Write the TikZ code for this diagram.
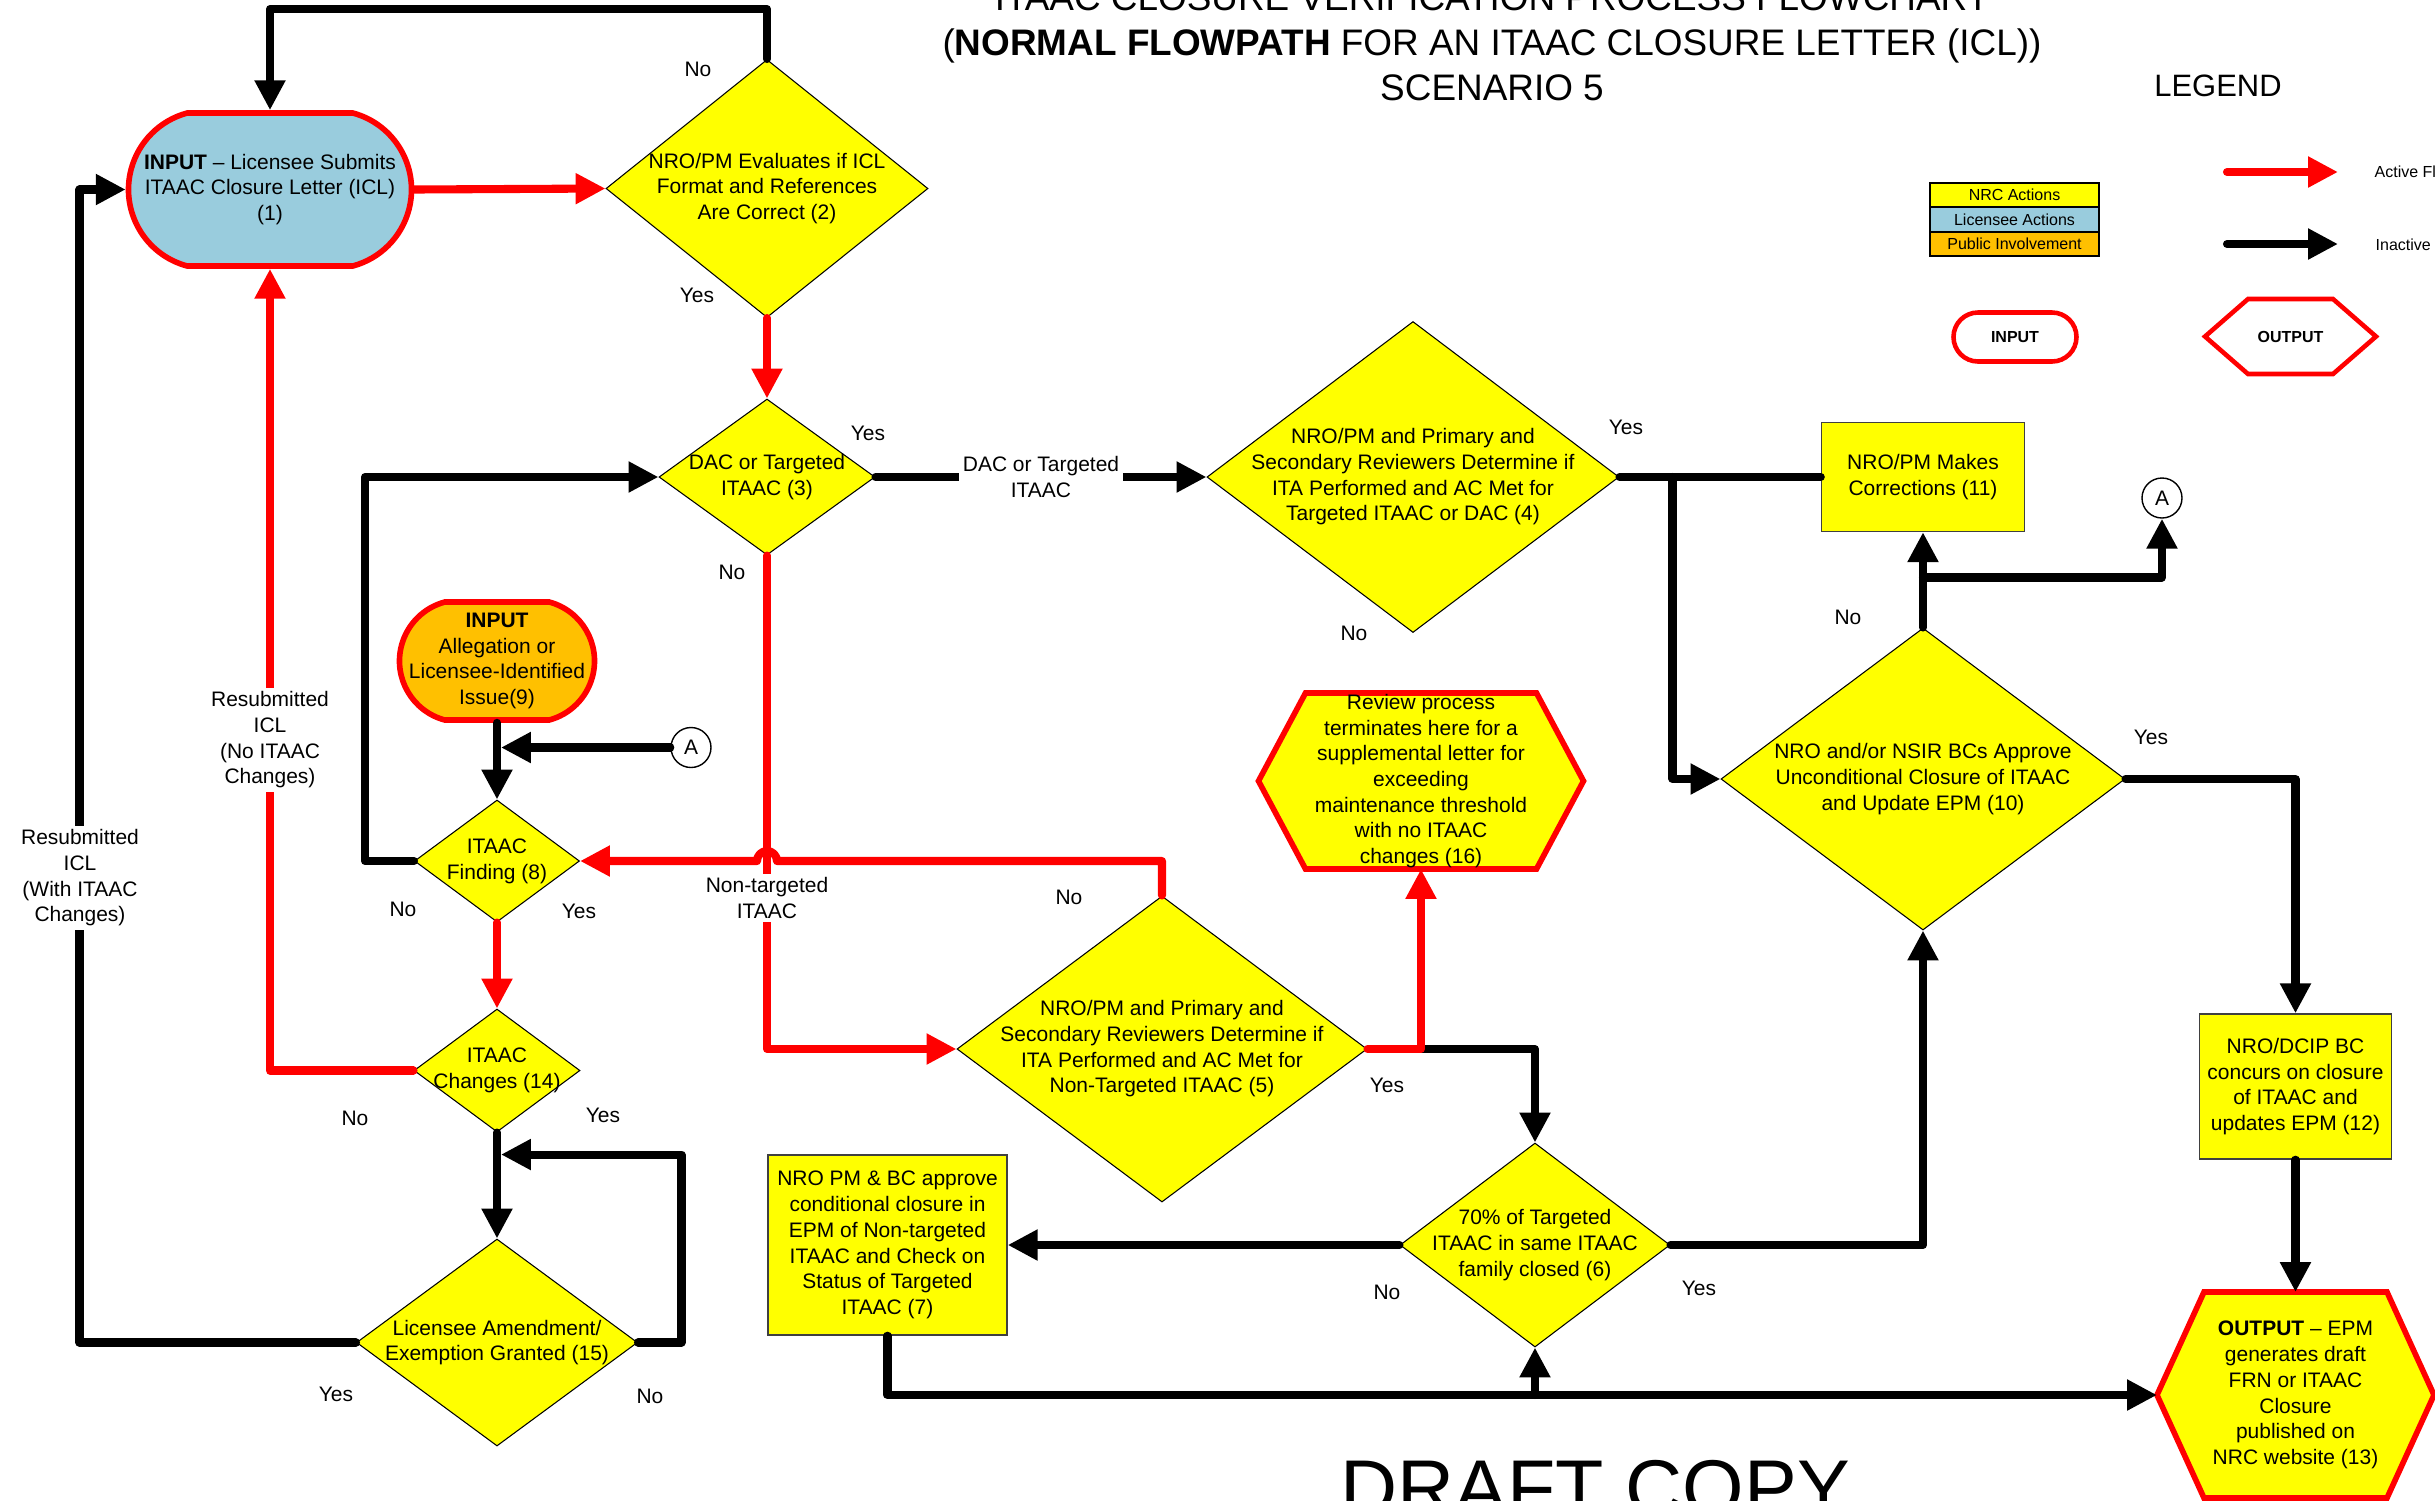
\documentclass[tikz,border=0pt]{standalone}
\usepackage{fontspec}
\setmainfont{Liberation Sans}
\usetikzlibrary{shapes.geometric,shapes.misc,arrows.meta}

\definecolor{nrcyellow}{RGB}{255,255,0}
\definecolor{licblue}{RGB}{153,204,221}
\definecolor{puborange}{RGB}{255,192,0}
\definecolor{flowred}{RGB}{255,0,0}

\newcommand{\nodefont}{\fontsize{5.97}{7.31}\selectfont}
\newcommand{\keyfont}{\fontsize{4.55}{5.2}\selectfont}
\newcommand{\titlefont}{\fontsize{10.5}{12.5}\selectfont}

\tikzset{
  txt/.style={align=center,font=\nodefont,inner sep=0pt},
  decision/.style={shape=diamond,draw=black,line width=0.3pt,fill=nrcyellow,inner sep=0pt},
  actbox/.style={shape=rectangle,draw=black!75,line width=0.4pt,fill=nrcyellow,inner sep=0pt},
  inbox/.style={shape=rounded rectangle,rounded rectangle arc length=150,draw=flowred,line width=1.6pt,inner sep=0pt},
  outframe/.style={shape=rectangle,inner sep=0pt,outer sep=0pt},
  hexline/.style={draw=flowred,line width=1.6pt,line join=miter},
  conn/.style={shape=circle,draw=black,line width=0.4pt,fill=white,inner sep=0pt,minimum size=0.4cm,font=\nodefont},
  keybox/.style={shape=rectangle,draw=black,line width=0.6pt,inner sep=0pt,minimum width=1.69cm,minimum height=0.245cm,font=\keyfont},
  yn/.style={font=\nodefont,inner sep=0pt},
  onwire/.style={font=\nodefont,align=center,fill=white,inner sep=1pt},
  inact/.style={line width=2.3pt,draw=black,line cap=round,line join=round,-{Triangle[length=8.5pt,width=8.3pt]}},
  act/.style={inact,draw=flowred},
}

\begin{document}
\begin{tikzpicture}
\useasboundingbox (0,0) rectangle (24.35,-15.00);

% title
\node[anchor=base,font=\titlefont] (t1) at (14.92,-0.10) {ITAAC CLOSURE VERIFICATION PROCESS FLOWCHART};
\node[anchor=base,font=\titlefont] (t2) at (14.92,-0.55) {(\textbf{NORMAL FLOWPATH} FOR AN ITAAC CLOSURE LETTER (ICL))};
\node[anchor=base,font=\titlefont] (t3) at (14.92,-1.00) {SCENARIO 5};
\node[anchor=base,font=\fontsize{22.5}{25}\selectfont] (draft) at (15.95,-15.15) {DRAFT COPY};

% legend
\node[font=\fontsize{8.8}{10}\selectfont] (legend) at (22.18,-0.86) {LEGEND};
\node[keybox,fill=nrcyellow] (k1) at (20.145,-1.950) {NRC Actions};
\node[keybox,fill=licblue] (k2) at (20.145,-2.195) {Licensee Actions};
\node[keybox,fill=puborange] (k3) at (20.145,-2.440) {Public Involvement};
\node[inbox,rounded rectangle arc length=180,line width=1.3pt,fill=white,minimum width=1.23cm,minimum height=0.49cm,font=\keyfont\bfseries] (kin) at (20.15,-3.37) {INPUT};
\node[outframe,minimum width=1.71cm,minimum height=0.75cm] (kout) at (22.905,-3.365) {};
\filldraw[hexline,line width=1.3pt,fill=white] (kout.west) -- ([xshift=0.43cm]kout.north west) -- ([xshift=-0.43cm]kout.north east) -- (kout.east) -- ([xshift=-0.43cm]kout.south east) -- ([xshift=0.43cm]kout.south west) -- cycle;
\node[font=\keyfont\bfseries,inner sep=0pt] (kouttxt) at (kout) {OUTPUT};
\coordinate (ka1) at (22.27,-1.72);
\coordinate (kb1) at (23.38,-1.72);
\coordinate (ka2) at (22.27,-2.44);
\coordinate (kb2) at (23.38,-2.44);
\draw[act] (ka1) -- (kb1);
\draw[inact] (ka2) -- (kb2);
\node[anchor=west,font=\keyfont,inner sep=0pt] (kact) at (23.74,-1.72) {Active Flow};
\node[anchor=west,font=\keyfont,inner sep=0pt] (kinact) at (23.75,-2.45) {Inactive};

% steps
\node[inbox,fill=licblue,minimum width=2.83cm,minimum height=1.53cm,label={[txt]center:{\textbf{INPUT} -- Licensee Submits\\ITAAC Closure Letter (ICL)\\(1)}}] (n1) at (2.70,-1.895) {};
\node[decision,minimum width=3.22cm,minimum height=2.58cm,label={[txt]center:{NRO/PM Evaluates if ICL\\Format and References\\Are Correct (2)}}] (n2) at (7.67,-1.885) {};
\node[decision,minimum width=2.16cm,minimum height=1.56cm,label={[txt]center:{DAC or Targeted\\ITAAC (3)}}] (n3) at (7.67,-4.77) {};
\node[decision,minimum width=4.12cm,minimum height=3.11cm,label={[txt]center:{NRO/PM and Primary and\\Secondary Reviewers Determine if\\ITA Performed and AC Met for\\Targeted ITAAC or DAC (4)}}] (n4) at (14.13,-4.77) {};
\node[actbox,minimum width=2.03cm,minimum height=1.09cm,label={[txt]center:{NRO/PM Makes\\Corrections (11)}}] (n11) at (19.23,-4.77) {};
\node[conn] (aout) at (21.62,-4.98) {A};
\node[decision,minimum width=4.04cm,minimum height=3.02cm,label={[txt]center:{NRO and/or NSIR BCs Approve\\Unconditional Closure of ITAAC\\and Update EPM (10)}}] (n10) at (19.23,-7.79) {};
\node[actbox,minimum width=1.92cm,minimum height=1.45cm,label={[txt]center:{NRO/DCIP BC\\concurs on closure\\of ITAAC and\\updates EPM (12)}}] (n12) at (22.955,-10.865) {};
\node[outframe,minimum width=2.77cm,minimum height=2.06cm] (n13) at (22.955,-13.95) {};
\filldraw[hexline,fill=nrcyellow] (n13.west) -- ([xshift=0.47cm]n13.north west) -- ([xshift=-0.47cm]n13.north east) -- (n13.east) -- ([xshift=-0.47cm]n13.south east) -- ([xshift=0.47cm]n13.south west) -- cycle;
\node[txt] (n13txt) at (n13) {\textbf{OUTPUT} -- EPM\\generates draft\\FRN or ITAAC\\Closure\\published on\\NRC website (13)};
\node[decision,minimum width=2.70cm,minimum height=2.04cm,label={[txt]center:{70\% of Targeted\\ITAAC in same ITAAC\\family closed (6)}}] (n6) at (15.35,-12.45) {};
\node[decision,minimum width=4.10cm,minimum height=3.06cm,label={[txt]center:{NRO/PM and Primary and\\Secondary Reviewers Determine if\\ITA Performed and AC Met for\\Non-Targeted ITAAC (5)}}] (n5) at (11.62,-10.49) {};
\node[outframe,minimum width=3.25cm,minimum height=1.76cm] (n16) at (14.21,-7.81) {};
\filldraw[hexline,fill=nrcyellow] (n16.west) -- ([xshift=0.47cm]n16.north west) -- ([xshift=-0.47cm]n16.north east) -- (n16.east) -- ([xshift=-0.47cm]n16.south east) -- ([xshift=0.47cm]n16.south west) -- cycle;
\node[txt] (n16txt) at (n16) {Review process\\terminates here for a\\supplemental letter for\\exceeding\\maintenance threshold\\with no ITAAC\\changes (16)};
\node[actbox,minimum width=2.39cm,minimum height=1.80cm,label={[txt]center:{NRO PM \& BC approve\\conditional closure in\\EPM of Non-targeted\\ITAAC and Check on\\Status of Targeted\\ITAAC (7)}}] (n7) at (8.875,-12.45) {};
\node[inbox,fill=puborange,minimum width=1.95cm,minimum height=1.18cm,label={[txt]center:{\textbf{INPUT}\\Allegation or\\Licensee-Identified\\Issue(9)}}] (n9) at (4.97,-6.61) {};
\node[conn] (ain) at (6.91,-7.475) {A};
\node[decision,minimum width=1.65cm,minimum height=1.22cm,label={[txt]center:{ITAAC\\Finding (8)}}] (n8) at (4.97,-8.61) {};
\node[decision,minimum width=1.66cm,minimum height=1.23cm,label={[txt]center:{ITAAC\\Changes (14)}}] (n14) at (4.97,-10.705) {};
\node[decision,minimum width=2.81cm,minimum height=2.07cm,label={[txt]center:{Licensee Amendment/\\Exemption Granted (15)}}] (n15) at (4.97,-13.425) {};

% connectors
\draw[inact] (n2.north) -- ++(0,0.50) -| (n1.north);
\draw[act] (n1.east) -- (n2.west);
\draw[act] (n2.south) -- (n3.north);
\draw[inact] (n3.east) -- (n4.west);
\draw[act] (n3.south) |- (n5.west);
\coordinate (hop) at (n3.south |- n8.east);
\draw[act] (n5.north) |- ([xshift=0.1cm]hop) arc[start angle=0,end angle=180,radius=0.1cm] -- (n8.east);
\draw[inact] (n5.east -| n16.south) -| (n6.north);
\draw[act] (n5.east) -| (n16.south);
\draw[inact] (n6.west) -- (n7.east);
\draw[inact] (n7.south) |- (n13.west);
\draw[inact] (n6.south |- n13.west) -- (n6.south);
\draw[inact] (n6.east) -| (n10.south);
\draw[inact] (n10.east) -| (n12.north);
\draw[inact] (n12.south) -- (n13.north);
\draw[inact] (n10.north) -- (n11.south);
\draw[inact] ([yshift=0.50cm]n10.north) -| (aout.south);
\draw[inact,-] (n4.east) -- (n11.west);
\draw[inact] ([xshift=0.53cm]n4.east) |- (n10.west);
\draw[inact] (n9.south) -- (n8.north);
\draw[inact] (ain.west) -- ([xshift=0.04cm]n9.south |- ain.west);
\draw[inact] (n8.west) -- ++(-0.49,0) |- (n3.west);
\draw[act] (n8.south) -- (n14.north);
\draw[act] (n14.west) -| (n1.south);
\draw[inact] (n14.south) -- (n15.north);
\draw[inact] (n15.east) -- ++(0.435,0) |- ([shift={(0.04,-0.22)}]n14.south);
\draw[inact] (n15.west) -- ++(-2.765,0) |- (n1.west);

% texts on the connectors
\node[onwire] (w1) at (10.41,-4.77) {DAC or Targeted\\ITAAC};
\node[onwire] (w2) at (7.67,-8.98) {Non-targeted\\ITAAC};
\node[onwire] (w3) at (2.70,-7.40) {Resubmitted\\ICL\\(No ITAAC\\Changes)};
\node[onwire] (w4) at (0.80,-8.78) {Resubmitted\\ICL\\(With ITAAC\\Changes)};

% yes / no
\node[yn] (n2no) at (6.98,-0.69) {No};
\node[yn] (n2yes) at (6.97,-2.95) {Yes};
\node[yn] (n3yes) at (8.68,-4.33) {Yes};
\node[yn] (n3no) at (7.32,-5.72) {No};
\node[yn] (n4yes) at (16.26,-4.27) {Yes};
\node[yn] (n4no) at (13.54,-6.33) {No};
\node[yn] (n10no) at (18.48,-6.17) {No};
\node[yn] (n10yes) at (21.51,-7.37) {Yes};
\node[yn] (n8no) at (4.03,-9.09) {No};
\node[yn] (n8yes) at (5.79,-9.11) {Yes};
\node[yn] (n5no) at (10.69,-8.97) {No};
\node[yn] (n5yes) at (13.87,-10.85) {Yes};
\node[yn] (n14no) at (3.55,-11.18) {No};
\node[yn] (n14yes) at (6.03,-11.15) {Yes};
\node[yn] (n15yes) at (3.36,-13.94) {Yes};
\node[yn] (n15no) at (6.50,-13.96) {No};
\node[yn] (n6no) at (13.87,-12.92) {No};
\node[yn] (n6yes) at (16.99,-12.88) {Yes};
\end{tikzpicture}
\end{document}
